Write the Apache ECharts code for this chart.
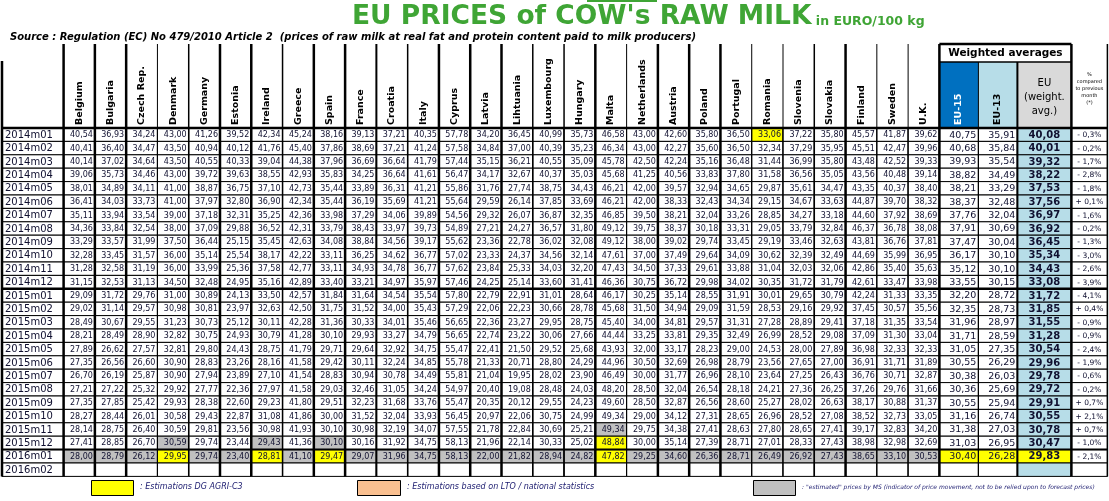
<!DOCTYPE html>
<html>
<head>
<meta charset="utf-8">
<title>EU prices of cow's raw milk</title>
<script src="https://cdn.jsdelivr.net/npm/echarts@6/dist/echarts.min.js"></script>
<style>
  html, body { margin: 0; padding: 0; background: #fff; }
  #chart { width: 1109px; height: 501px; }
</style>
</head>
<body>
<div id="chart"></div>
<script>
// periods (rows)
const periods = [
  '2014m01', '2014m02', '2014m03', '2014m04', '2014m05', '2014m06',
  '2014m07', '2014m08', '2014m09', '2014m10', '2014m11', '2014m12',
  '2015m01', '2015m02', '2015m03', '2015m04', '2015m05', '2015m06',
  '2015m07', '2015m08', '2015m09', '2015m10', '2015m11', '2015m12',
  '2016m01', '2016m02'
]

// member states (columns)
const countries = [
  'Belgium', 'Bulgaria', 'Czech Rep.', 'Denmark', 'Germany', 'Estonia', 'Ireland',
  'Greece', 'Spain', 'France', 'Croatia', 'Italy', 'Cyprus', 'Latvia', 'Lihtuania',
  'Luxembourg', 'Hungary', 'Malta', 'Netherlands', 'Austria', 'Poland', 'Portugal',
  'Romania', 'Slovenia', 'Slovakia', 'Finland', 'Sweden', 'U.K.'
]

// prices in EURO/100 kg, one row per month, in the order of countries
const prices2014 = [
  [40.54, 36.93, 34.24, 43.00, 41.26, 39.52, 42.34, 45.24, 38.16, 39.13, 37.21, 40.35, 57.78, 34.20, 36.45, 40.99, 35.73, 46.58, 43.00, 42.60, 35.80, 36.50, 33.06, 37.22, 35.80, 45.57, 41.87, 39.62],
  [40.41, 36.40, 34.47, 43.50, 40.94, 40.12, 41.76, 45.40, 37.86, 38.69, 37.21, 41.24, 57.58, 34.84, 37.00, 40.39, 35.23, 46.34, 43.00, 42.27, 35.60, 36.50, 32.34, 37.29, 35.95, 45.51, 42.47, 39.96],
  [40.14, 37.02, 34.64, 43.50, 40.55, 40.33, 39.04, 44.38, 37.96, 36.69, 36.64, 41.79, 57.44, 35.15, 36.21, 40.55, 35.09, 45.78, 42.50, 42.24, 35.16, 36.48, 31.44, 36.99, 35.80, 43.48, 42.52, 39.33],
  [39.06, 35.73, 34.46, 43.00, 39.72, 39.63, 38.55, 42.93, 35.83, 34.25, 36.64, 41.61, 56.47, 34.17, 32.67, 40.37, 35.03, 45.68, 41.25, 40.56, 33.83, 37.80, 31.58, 36.56, 35.05, 43.56, 40.48, 39.14],
  [38.01, 34.89, 34.11, 41.00, 38.87, 36.75, 37.10, 42.73, 35.44, 33.89, 36.31, 41.21, 55.86, 31.76, 27.74, 38.75, 34.43, 46.21, 42.00, 39.57, 32.94, 34.65, 29.87, 35.61, 34.47, 43.35, 40.37, 38.40],
  [36.41, 34.03, 33.73, 41.00, 37.97, 32.80, 36.90, 42.34, 35.44, 36.19, 35.69, 41.21, 55.64, 29.59, 26.14, 37.85, 33.69, 46.21, 42.00, 38.33, 32.43, 34.34, 29.15, 34.67, 33.63, 44.87, 39.70, 38.32],
  [35.11, 33.94, 33.54, 39.00, 37.18, 32.31, 35.25, 42.36, 33.98, 37.29, 34.06, 39.89, 54.56, 29.32, 26.07, 36.87, 32.35, 46.85, 39.50, 38.21, 32.04, 33.26, 28.85, 34.27, 33.18, 44.60, 37.92, 38.69],
  [34.36, 33.84, 32.54, 38.00, 37.09, 29.88, 36.52, 42.31, 33.79, 38.43, 33.97, 39.73, 54.89, 27.21, 24.27, 36.57, 31.80, 49.12, 39.75, 38.37, 30.18, 33.31, 29.05, 33.79, 32.84, 46.37, 36.78, 38.08],
  [33.29, 33.57, 31.99, 37.50, 36.44, 25.15, 35.45, 42.63, 34.08, 38.84, 34.56, 39.17, 55.62, 23.36, 22.78, 36.02, 32.08, 49.12, 38.00, 39.02, 29.74, 33.45, 29.19, 33.46, 32.63, 43.81, 36.76, 37.81],
  [32.28, 33.45, 31.57, 36.00, 35.14, 25.54, 38.17, 42.22, 33.11, 36.25, 34.62, 36.77, 57.02, 23.33, 24.37, 34.56, 32.14, 47.61, 37.00, 37.49, 29.64, 34.09, 30.62, 32.39, 32.49, 44.69, 35.99, 36.95],
  [31.28, 32.58, 31.19, 36.00, 33.99, 25.36, 37.58, 42.77, 33.11, 34.93, 34.78, 36.77, 57.62, 23.84, 25.33, 34.03, 32.20, 47.43, 34.50, 37.33, 29.61, 33.88, 31.04, 32.03, 32.06, 42.86, 35.40, 35.63],
  [31.15, 32.53, 31.13, 34.50, 32.48, 24.95, 35.16, 42.89, 33.40, 33.21, 34.97, 35.97, 57.46, 24.25, 25.14, 33.60, 31.41, 46.36, 30.75, 36.72, 29.98, 34.02, 30.35, 31.72, 31.79, 42.61, 33.47, 33.98]
]
const prices2015 = [
  [29.09, 31.72, 29.76, 31.00, 30.89, 24.13, 33.50, 42.57, 31.84, 31.64, 34.54, 35.54, 57.80, 22.79, 22.91, 31.01, 28.64, 46.17, 30.25, 35.14, 28.55, 31.91, 30.01, 29.65, 30.79, 42.24, 31.33, 33.35],
  [29.02, 31.14, 29.57, 30.98, 30.81, 23.97, 32.63, 42.50, 31.75, 31.52, 34.00, 35.43, 57.29, 22.06, 22.23, 30.66, 28.78, 45.68, 31.50, 34.94, 29.09, 31.59, 28.53, 29.16, 29.92, 37.45, 30.57, 35.56],
  [28.49, 30.67, 29.55, 31.23, 30.73, 25.12, 30.11, 42.28, 31.36, 30.33, 34.01, 35.46, 56.65, 22.36, 23.27, 29.95, 28.75, 45.40, 34.00, 34.81, 29.57, 31.31, 27.28, 28.89, 29.41, 37.18, 31.35, 33.54],
  [28.21, 28.49, 28.90, 32.82, 30.75, 24.93, 30.79, 41.28, 30.10, 29.93, 33.27, 34.79, 56.65, 22.74, 23.22, 30.06, 27.66, 44.44, 33.25, 33.81, 29.35, 32.49, 26.99, 28.52, 29.08, 37.09, 31.30, 33.04],
  [27.89, 26.62, 27.57, 32.81, 29.80, 24.43, 28.75, 41.79, 29.71, 29.64, 32.92, 34.75, 55.47, 22.41, 21.50, 29.52, 25.68, 43.93, 32.00, 33.17, 28.23, 29.00, 24.53, 28.00, 27.89, 36.98, 32.33, 32.33],
  [27.35, 26.56, 26.60, 30.90, 28.83, 23.26, 28.16, 41.58, 29.42, 30.11, 32.24, 34.85, 55.78, 21.33, 20.71, 28.80, 24.29, 44.96, 30.50, 32.69, 26.98, 28.79, 23.56, 27.65, 27.00, 36.91, 31.71, 31.89],
  [26.70, 26.19, 25.87, 30.90, 27.94, 23.89, 27.10, 41.54, 28.83, 30.94, 30.78, 34.49, 55.81, 21.04, 19.95, 28.02, 23.90, 46.49, 30.00, 31.77, 26.96, 28.10, 23.64, 27.25, 26.43, 36.76, 30.71, 32.87],
  [27.21, 27.22, 25.32, 29.92, 27.77, 22.36, 27.97, 41.58, 29.03, 32.46, 31.05, 34.24, 54.97, 20.40, 19.08, 28.48, 24.03, 48.20, 28.50, 32.04, 26.54, 28.18, 24.21, 27.36, 26.25, 37.26, 29.76, 31.66],
  [27.35, 27.85, 25.42, 29.93, 28.38, 22.60, 29.23, 41.80, 29.51, 32.23, 31.68, 33.76, 55.47, 20.35, 20.12, 29.55, 24.23, 49.60, 28.50, 32.87, 26.56, 28.60, 25.27, 28.02, 26.63, 38.17, 30.88, 31.37],
  [28.27, 28.44, 26.01, 30.58, 29.43, 22.87, 31.08, 41.86, 30.00, 31.52, 32.04, 33.93, 56.45, 20.97, 22.06, 30.75, 24.99, 49.34, 29.00, 34.12, 27.31, 28.65, 26.96, 28.52, 27.08, 38.52, 32.73, 33.05],
  [28.14, 28.75, 26.40, 30.59, 29.81, 23.56, 30.98, 41.93, 30.10, 30.98, 32.19, 34.07, 57.55, 21.78, 22.84, 30.69, 25.21, 49.34, 29.75, 34.38, 27.41, 28.63, 27.80, 28.65, 27.41, 39.17, 32.83, 34.20],
  [27.41, 28.85, 26.70, 30.59, 29.74, 23.44, 29.43, 41.36, 30.10, 30.16, 31.92, 34.75, 58.13, 21.96, 22.14, 30.33, 25.02, 48.84, 30.00, 35.14, 27.39, 28.71, 27.01, 28.33, 27.43, 38.98, 32.98, 32.69]
]
const prices2016 = [
  [28.00, 28.79, 26.12, 29.95, 29.74, 23.40, 28.81, 41.10, 29.47, 29.07, 31.96, 34.75, 58.13, 22.00, 21.82, 28.94, 24.82, 47.82, 29.25, 34.60, 26.36, 28.71, 26.49, 26.92, 27.43, 38.65, 33.10, 30.53]
]

// weighted averages and monthly change
const eu15 = [40.75, 40.68, 39.93, 38.82, 38.21, 38.37, 37.76, 37.91, 37.47, 36.17, 35.12, 33.55,
  32.20, 32.35, 31.96, 31.71, 31.05, 30.55, 30.38, 30.36, 30.55, 31.16, 31.38, 31.03, 30.40]
const eu13 = [35.91, 35.84, 35.54, 34.49, 33.29, 32.48, 32.04, 30.69, 30.04, 30.10, 30.10, 30.15,
  28.72, 28.73, 28.97, 28.59, 27.35, 26.29, 26.03, 25.69, 25.94, 26.74, 27.03, 26.95, 26.28]
const euAvg = [40.08, 40.01, 39.32, 38.22, 37.53, 37.56, 36.97, 36.92, 36.45, 35.34, 34.43, 33.08,
  31.72, 31.85, 31.55, 31.28, 30.54, 29.96, 29.78, 29.72, 29.91, 30.55, 30.78, 30.47, 29.83]
const pctChange = [-0.3, -0.2, -1.7, -2.8, -1.8, 0.1, -1.6, -0.2, -1.3, -3.0, -2.6, -3.9,
  -4.1, 0.4, -0.9, -0.9, -2.4, -1.9, -0.6, -0.2, 0.7, 2.1, 0.7, -1.0, -2.1]

// flagged cells
const agriEstimates = [
  ['2014m01', 'Romania'], ['2015m12', 'Malta'],
  ['2016m01', 'Denmark'], ['2016m01', 'Ireland'], ['2016m01', 'Spain'], ['2016m01', 'Malta']
]
const msEstimates = [
  ['2015m11', 'Malta'], ['2015m12', 'Denmark'], ['2015m12', 'Ireland'], ['2015m12', 'Spain']
]
const msEstimatedMonths = ['2016m01']   // whole row estimated by MS
const avgEstimatedMonths = ['2016m01']  // averages estimated by DG AGRI

// ---- layout ----
const YELLOW = '#ffff00'
const GREY = '#c0c0c0'
const LIGHT_BLUE = '#b7dde8'
const GREEN = '#3fa535'
const ROW_PX = 13.4
const HDR = 84 / ROW_PX            // header height in row units
const SUB = 66 / ROW_PX            // sub header (below "Weighted averages")
const LABEL_TOP = 67 / ROW_PX
const colWidths = [61.6].concat(countries.map(() => 875.8 / countries.length), [39, 39, 54, 36])
const edges = [0]
colWidths.forEach(w => edges.push(edges[edges.length - 1] + w))
const EU15 = countries.length + 1
const EU13 = EU15 + 1
const EUW = EU15 + 2
const PCT = EU15 + 3

// line weights of the country separators (left edge of each column, then the last right edge)
const sepWeights = [2.5, 2.5, 2.5, 1, 1.5, 2.5, 2.5, 1.5, 2.5, 2.5, 2, 1.5, 2.5, 2.5, 2.5,
  1.5, 1.5, 2.5, 1, 2.5, 2.5, 2.5, 1, 1, 1.5, 2.5, 1, 1, 2.5]

const fmt = v => v.toFixed(2).replace('.', ',')
const fmtPct = v => (v >= 0 ? '+ ' : '- ') + Math.abs(v).toFixed(1).replace('.', ',') + '%'
const isFlag = (list, p, c) => list.some(f => f[0] === p && f[1] === c)

const allRows = prices2014.concat(prices2015, prices2016)

// ---- body cells ----
const bodyCells = []
periods.forEach((p, r) => {
  bodyCells.push({ col: 0, row: r, text: p, fill: '#fff', font: '10px "DejaVu Sans"', align: 'left' })
  const vals = allRows[r]
  countries.forEach((c, i) => {
    let fill = '#fff'
    if (vals && msEstimatedMonths.includes(p)) fill = GREY
    if (isFlag(msEstimates, p, c)) fill = GREY
    if (isFlag(agriEstimates, p, c)) fill = YELLOW
    bodyCells.push({
      col: i + 1, row: r, text: vals ? fmt(vals[i]) : '', fill,
      font: '8px "DejaVu Sans"', align: 'right'
    })
  })
  const est = avgEstimatedMonths.includes(p)
  const has = r < eu15.length
  bodyCells.push({ col: EU15, row: r, text: has ? fmt(eu15[r]) : '', fill: est ? YELLOW : '#fff', font: '9.5px "DejaVu Sans"', align: 'right' })
  bodyCells.push({ col: EU13, row: r, text: has ? fmt(eu13[r]) : '', fill: est ? YELLOW : '#fff', font: '9.5px "DejaVu Sans"', align: 'right' })
  bodyCells.push({ col: EUW, row: r, text: has ? fmt(euAvg[r]) : '', fill: est ? YELLOW : LIGHT_BLUE, font: 'bold 10px "DejaVu Sans"', align: 'center' })
  bodyCells.push({ col: PCT, row: r, text: has ? fmtPct(pctChange[r]) : '', fill: '#fff', font: '7.5px "DejaVu Sans"', align: 'center' })
})

// ---- header cells ----
const headerCells = countries.map((c, i) => ({ col: i + 1, y0: -HDR, y1: 0, fill: null, text: c, rotate: true, color: '#000' }))
headerCells.push({ col: EU15, y0: -SUB, y1: 0, fill: '#0070c0', text: 'EU-15', rotate: true, color: '#fff' })
headerCells.push({ col: EU13, y0: -SUB, y1: 0, fill: LIGHT_BLUE, text: 'EU-13', rotate: true, color: '#000' })
headerCells.push({ col: EUW, y0: -SUB, y1: 0, fill: '#d9d9d9', text: 'EU\n(weight.\navg.)', rotate: false, color: '#000', font: '10px "DejaVu Sans"', lh: 14, yc: -2.3 })
headerCells.push({ col: PCT, y0: -HDR, y1: 0, fill: null, text: '%\ncompared\nto previous\nmonth\n(*)', rotate: false, color: '#000', font: '5px "DejaVu Sans"', lh: 7, yc: -2.9 })

// ---- rules (thick/visible lines) ----
const rules = []
rules.push([edges[0], -LABEL_TOP, edges[0], periods.length, 2.5])
sepWeights.forEach((w, i) => rules.push([edges[i + 1], -HDR, edges[i + 1], periods.length, w]))
rules.push([edges[EU13], -SUB, edges[EU13], periods.length, 1])
rules.push([edges[EUW], -SUB, edges[EUW], periods.length, 2])
rules.push([edges[PCT], -HDR, edges[PCT], periods.length, 2.5])
rules.push([edges[PCT + 1], -HDR, edges[PCT + 1], periods.length, 1.5])
rules.push([edges[EU15], -HDR, edges[PCT], -HDR, 2.5])
rules.push([edges[EU15], -SUB, edges[PCT], -SUB, 1.5])
rules.push([edges[0], 0, edges[PCT + 1], 0, 2.5])
rules.push([edges[0], 12, edges[PCT + 1], 12, 2.5])
rules.push([edges[0], 24, edges[PCT + 1], 24, 2])

function box(api, c0, c1, y0, y1) {
  const a = api.coord([edges[c0], y0])
  const b = api.coord([edges[c1], y1])
  return { x: a[0], y: a[1], width: b[0] - a[0], height: b[1] - a[1] }
}

const chart = echarts.init(document.getElementById('chart'), null, { renderer: 'canvas' })

const option = {
  animation: false,
  backgroundColor: '#fff',
  title: [
    {
      left: 347, top: -3,
      text: "{a|EU PRICES of COW's RAW MILK}{b| in EURO/100 kg}",
      textStyle: {
        rich: {
          a: { fontFamily: 'DejaVu Sans', fontWeight: 'bold', fontSize: 26.5, color: GREEN, lineHeight: 30 },
          b: { fontFamily: 'DejaVu Sans', fontWeight: 'bold', fontSize: 12.5, color: GREEN, lineHeight: 30, padding: [9, 0, 0, 0] }
        }
      }
    },
    {
      left: 5, top: 27,
      text: 'Source : Regulation (EC) No 479/2010 Article 2  (prices of raw milk at real fat and protein content paid to milk producers)',
      textStyle: { fontFamily: 'DejaVu Sans', fontWeight: 'bold', fontStyle: 'italic', fontSize: 10, color: '#000' }
    }
  ],
  grid: { left: 2, top: 44, width: edges[edges.length - 1], height: (HDR + periods.length) * ROW_PX },
  xAxis: { type: 'value', min: 0, max: edges[edges.length - 1], show: false },
  yAxis: { type: 'value', min: -HDR, max: periods.length, inverse: true, show: false },
  series: [
    {
      type: 'custom',
      silent: true,
      data: bodyCells.map(c => [c.col, c.row]),
      renderItem: (params, api) => {
        const c = bodyCells[params.dataIndex]
        const r = box(api, c.col, c.col + 1, c.row, c.row + 1)
        let tx = r.x + r.width / 2
        if (c.align === 'right') tx = r.x + r.width - 2
        if (c.align === 'left') tx = r.x + 3
        return {
          type: 'group',
          children: [
            { type: 'rect', shape: r, style: { fill: c.fill, stroke: '#000', lineWidth: 1 } },
            { type: 'text', x: tx, y: r.y + r.height / 2 + 0.5,
              style: { text: c.text, font: c.font, fill: '#101030', align: c.align, verticalAlign: 'middle' } }
          ]
        }
      }
    },
    {
      type: 'custom',
      silent: true,
      data: headerCells.map(c => [c.col, c.y0]),
      renderItem: (params, api) => {
        const c = headerCells[params.dataIndex]
        const r = box(api, c.col, c.col + 1, c.y0, c.y1)
        const children = []
        if (c.fill) children.push({ type: 'rect', shape: r, style: { fill: c.fill } })
        if (c.rotate) {
          children.push({
            type: 'text', x: r.x + r.width / 2, y: r.y + r.height - 3, rotation: Math.PI / 2,
            style: { text: c.text, font: 'bold 9.5px "DejaVu Sans"', fill: c.color, align: 'left', verticalAlign: 'middle' }
          })
        } else {
          const p = api.coord([edges[c.col], c.yc])
          children.push({
            type: 'text', x: r.x + r.width / 2, y: p[1],
            style: { text: c.text, font: c.font, lineHeight: c.lh, fill: c.color, align: 'center', verticalAlign: 'middle' }
          })
        }
        return { type: 'group', children }
      }
    },
    {
      type: 'custom',
      silent: true,
      data: [[EU15, -HDR]],
      renderItem: (params, api) => {
        const a = api.coord([edges[EU15], -HDR])
        const b = api.coord([edges[PCT], -SUB])
        return {
          type: 'text', x: (a[0] + b[0]) / 2, y: (a[1] + b[1]) / 2,
          style: { text: 'Weighted averages', font: 'bold 10.5px "DejaVu Sans"', fill: '#000', align: 'center', verticalAlign: 'middle' }
        }
      }
    },
    {
      type: 'custom',
      silent: true,
      data: rules.map(l => [l[0], l[1]]),
      renderItem: (params, api) => {
        const l = rules[params.dataIndex]
        const a = api.coord([l[0], l[1]])
        const b = api.coord([l[2], l[3]])
        return { type: 'line', shape: { x1: a[0], y1: a[1], x2: b[0], y2: b[1] }, style: { stroke: '#000', lineWidth: l[4] } }
      }
    }
  ],
  graphic: [
    { type: 'rect', left: 587, top: 0, shape: { width: 70, height: 2 }, style: { fill: GREEN } },
    { type: 'rect', left: 91, top: 480, shape: { width: 42, height: 15 }, style: { fill: YELLOW, stroke: '#000', lineWidth: 1 } },
    { type: 'text', left: 140, top: 483, style: { text: ': Estimations DG AGRI-C3', font: 'italic 8px "DejaVu Sans"', fill: '#1a1a6e' } },
    { type: 'rect', left: 357, top: 480, shape: { width: 43, height: 15 }, style: { fill: '#fac090', stroke: '#000', lineWidth: 1 } },
    { type: 'text', left: 407, top: 483, style: { text: ': Estimations based on LTO / national statistics', font: 'italic 8px "DejaVu Sans"', fill: '#1a1a6e' } },
    { type: 'rect', left: 753, top: 480, shape: { width: 42, height: 15 }, style: { fill: GREY, stroke: '#000', lineWidth: 1 } },
    { type: 'text', left: 802, top: 484, style: { text: ': "estimated" prices by MS (indicator of price movement, not to be relied upon to forecast prices)', font: 'italic 6px "DejaVu Sans"', fill: '#1a1a6e' } }
  ]
}

chart.setOption(option)
</script>
</body>
</html>
